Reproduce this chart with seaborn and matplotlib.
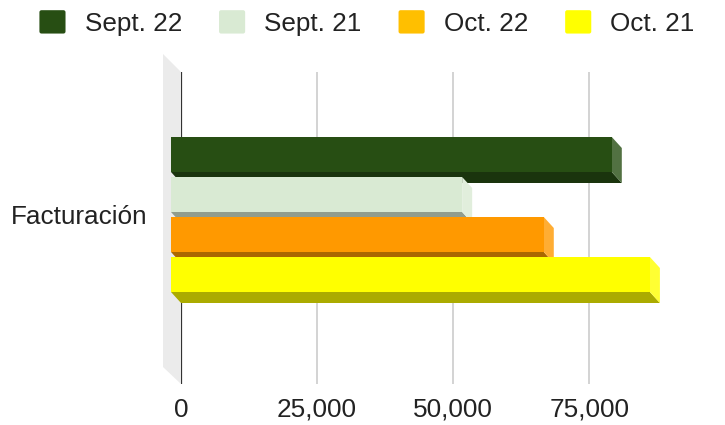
import numpy as np
import pandas as pd
import matplotlib
matplotlib.use("Agg")
import matplotlib.pyplot as plt
import seaborn as sns
from matplotlib.patches import Polygon, FancyBboxPatch
from matplotlib.legend_handler import HandlerPatch
from matplotlib.patches import Patch
from matplotlib.ticker import FuncFormatter
from matplotlib.transforms import ScaledTranslation
from matplotlib.colors import to_rgb

# data
categories = ["Facturación"]
series = ["Sept. 22", "Sept. 21", "Oct. 22", "Oct. 21"]
values = [81000, 53500, 68500, 88000]
bar_colors = ["#274e13", "#d9ead3", "#ff9900", "#ffff00"]
legend_colors = ["#274e13", "#d9ead3", "#ffbf00", "#ffff00"]
xticks = [0, 25000, 50000, 75000]

df = pd.DataFrame({"cat": categories * len(series), "serie": series, "valor": values})

sns.set_theme(style="white")
plt.rcParams["font.family"] = ["Liberation Sans", "DejaVu Sans"]
FS = 18.8

fig = plt.figure(figsize=(7.25, 4.25), dpi=100)
ax = fig.add_axes([181 / 725, 1 - 384 / 425, 517 / 725, 312 / 425])

sns.barplot(data=df, y="cat", x="valor", hue="serie", palette=bar_colors,
            orient="h", gap=0.125, legend=False, saturation=1, ax=ax)

ax.set_xlim(0, 95000)
ax.set_ylim(0.7925, -0.7675)

# 3d depth (px -> data)
px_x = 95000 / 517
px_y = 1.56 / 312
dx = 10 * px_x
dy = 11 * px_y


def shade(c, f):
    r = np.array(to_rgb(c))
    return tuple(r * f)


def tint(c, f):
    r = np.array(to_rgb(c))
    return tuple(r + (1 - r) * f)


for i, p in enumerate(ax.patches[:len(series)]):
    x0, y0 = p.get_x(), p.get_y()
    w, h = p.get_width(), p.get_height()
    col = bar_colors[i]
    z = 3 + i
    yt, yb = y0, y0 + h
    bottom = Polygon([(x0 - dx, yb - dy), (x0 + w - dx, yb - dy), (x0 + w, yb), (x0, yb)],
                     closed=True, fc=shade(col, 0.67), ec="none", zorder=z, clip_on=False)
    side = Polygon([(x0 + w - dx, yt - dy), (x0 + w, yt), (x0 + w, yb), (x0 + w - dx, yb - dy)],
                   closed=True, fc=tint(col, 0.2), ec="none", zorder=z, clip_on=False)
    ax.add_patch(bottom)
    ax.add_patch(side)
    p.set_xy((x0 - dx, y0 - dy))
    p.set_zorder(z + 0.5)
    p.set_edgecolor("none")
    p.set_clip_on(False)

# side wall
wx = 18 * px_x
wall = Polygon([(-wx, -0.7675 - 18 * px_y), (0, -0.7675), (0, 0.7925), (-wx, 0.7925 - 17 * px_y)],
               closed=True, fc="#ebebeb", ec="none", zorder=0, clip_on=False)
ax.add_patch(wall)

# grid
for t in xticks[1:]:
    ax.axvline(t, color="#cccccc", lw=1.2, zorder=1)
ax.axvline(0, color="#333333", lw=1.6, zorder=2)

ax.set_xticks(xticks)
ax.xaxis.set_major_formatter(FuncFormatter(lambda v, _: f"{int(v):,}"))
ax.tick_params(axis="x", length=0, pad=10, labelsize=FS, labelcolor="#222222")
ax.tick_params(axis="y", length=0, pad=24, labelsize=FS, labelcolor="#222222")
for lab in ax.get_yticklabels():
    lab.set_transform(lab.get_transform() + ScaledTranslation(0, 11 / 100, fig.dpi_scale_trans))
ax.set_xlabel("")
ax.set_ylabel("")
for s in ax.spines.values():
    s.set_visible(False)
ax.set_facecolor("none")


class RoundSquare(HandlerPatch):
    def create_artists(self, legend, orig, xd, yd, width, height, fontsize, trans):
        p = FancyBboxPatch((-xd, -yd), width, height, boxstyle="round,pad=0,rounding_size=1.5",
                           fc=orig.get_facecolor(), ec="none", transform=trans)
        return [p]


handles = [Patch(facecolor=c, edgecolor="none", label=s) for c, s in zip(legend_colors, series)]
fig.legend(handles=handles, loc="center", bbox_to_anchor=(367 / 725, 1 - 23 / 425), ncol=4,
           frameon=False, fontsize=FS, handlelength=1.0, handleheight=1.0,
           handletextpad=0.73, columnspacing=1.42, labelcolor="#222222",
           handler_map={Patch: RoundSquare()})

fig.savefig("out.png", dpi=100)
